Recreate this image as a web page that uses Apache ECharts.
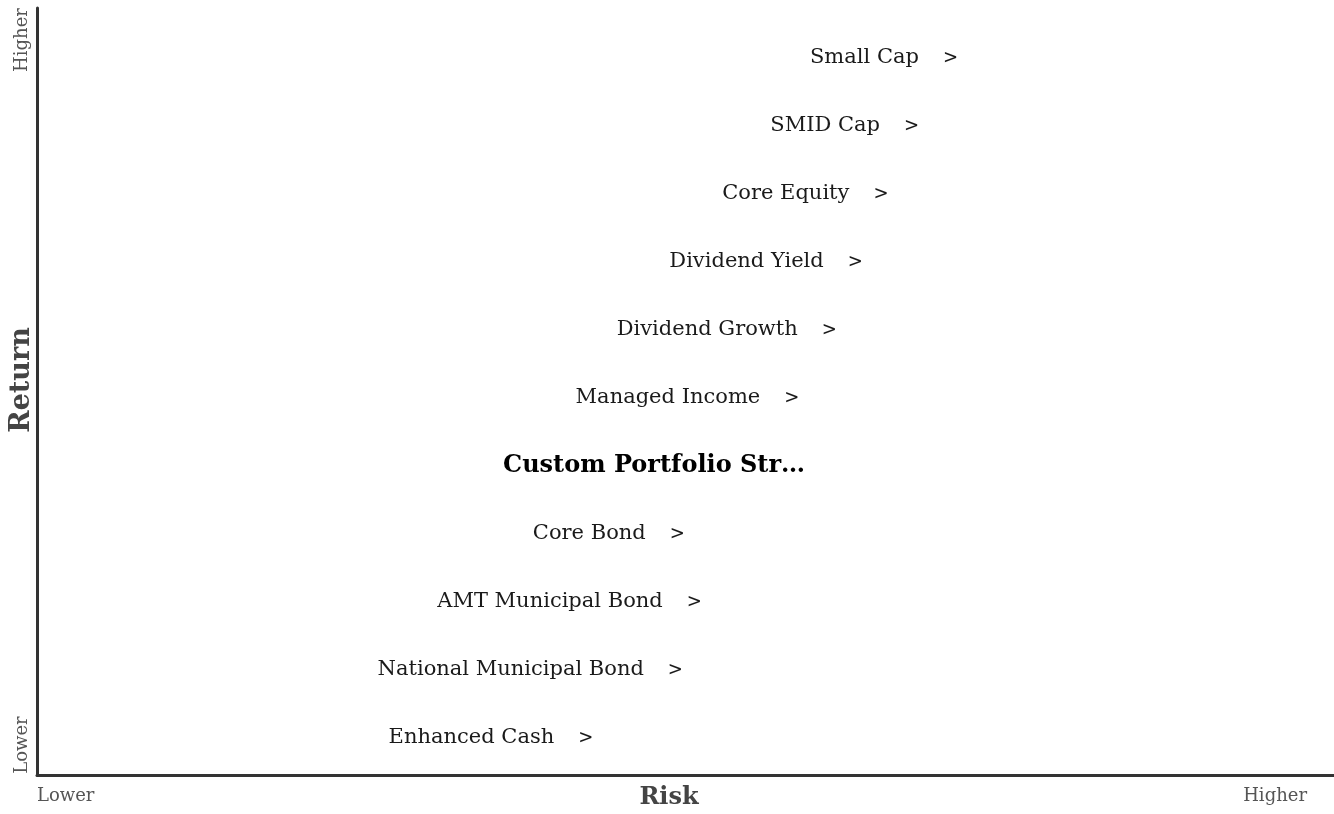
<!DOCTYPE html>
<html>
<head>
<meta charset="utf-8">
<script src="https://cdn.jsdelivr.net/npm/echarts@6/dist/echarts.min.js"></script>
<style>
  html, body { margin: 0; padding: 0; background: #fff; }
  #chart { width: 1334px; height: 814px; }
</style>
</head>
<body>
<div id="chart"></div>
<script>
// strategies from lowest to highest risk/return
const strategies = ['Enhanced Cash', 'National Municipal Bond', 'AMT Municipal Bond', 'Core Bond',
  'Custom Portfolio Str…', 'Managed Income', 'Dividend Growth', 'Dividend Yield',
  'Core Equity', 'SMID Cap', 'Small Cap']
const riskValues = [1, 2, 3, 4, 5.15, 6, 7, 8, 9, 10, 11]
const returnValues = [1, 2, 3, 4, 5, 6, 7, 8, 9, 10, 11]
const highlighted = 'Custom Portfolio Str…'

const font = 'DejaVu Serif'
const chart = echarts.init(document.getElementById('chart'))

const points = strategies.map((name, i) => {
  const isCustom = name === highlighted
  return {
    name: name,
    value: [riskValues[i], returnValues[i]],
    label: {
      formatter: isCustom ? '{b|' + name + '}' : '{n|' + name + '}{g|>}'
    }
  }
})

chart.setOption({
  animation: false,
  grid: { left: 37, right: 0, top: 8, bottom: 39 },
  xAxis: {
    type: 'value',
    min: -10.55,
    max: 22.45,
    axisLine: { show: true, onZero: false, lineStyle: { color: '#333', width: 3 } },
    axisTick: { show: false },
    axisLabel: { show: false },
    splitLine: { show: false }
  },
  yAxis: {
    type: 'value',
    min: 0.456,
    max: 11.735,
    axisLine: { show: true, onZero: false, lineStyle: { color: '#333', width: 3 } },
    axisTick: { show: false },
    axisLabel: { show: false },
    splitLine: { show: false }
  },
  series: [{
    type: 'scatter',
    symbolSize: 0,
    itemStyle: { opacity: 1 },
    data: points,
    label: {
      show: true,
      position: 'inside',
      color: '#1a1a1a',
      rich: {
        n: { fontFamily: font, fontSize: 21, color: '#1a1a1a' },
        g: { fontFamily: font, fontSize: 18, color: '#1a1a1a', padding: [0, 0, 0, 24] },
        b: { fontFamily: font, fontSize: 24, fontWeight: 'bold', color: '#000' }
      }
    }
  }],
  graphic: [
    { type: 'text', left: 37, top: 787, style: { text: 'Lower', font: '18px "DejaVu Serif"', fill: '#555' } },
    { type: 'text', right: 27, top: 787, style: { text: 'Higher', font: '18px "DejaVu Serif"', fill: '#555' } },
    { type: 'text', x: 669, y: 798, style: { text: 'Risk', font: 'bold 24px "DejaVu Serif"', fill: '#444', align: 'center', verticalAlign: 'middle' } },
    { type: 'text', x: 22, y: 40, rotation: Math.PI / 2, style: { text: 'Higher', font: '18px "DejaVu Serif"', fill: '#555', align: 'center', verticalAlign: 'middle' } },
    { type: 'text', x: 22, y: 745, rotation: Math.PI / 2, style: { text: 'Lower', font: '18px "DejaVu Serif"', fill: '#555', align: 'center', verticalAlign: 'middle' } },
    { type: 'text', x: 22, y: 380, rotation: Math.PI / 2, style: { text: 'Return', font: 'bold 27px "DejaVu Serif"', fill: '#444', align: 'center', verticalAlign: 'middle' } }
  ]
})
</script>
</body>
</html>
